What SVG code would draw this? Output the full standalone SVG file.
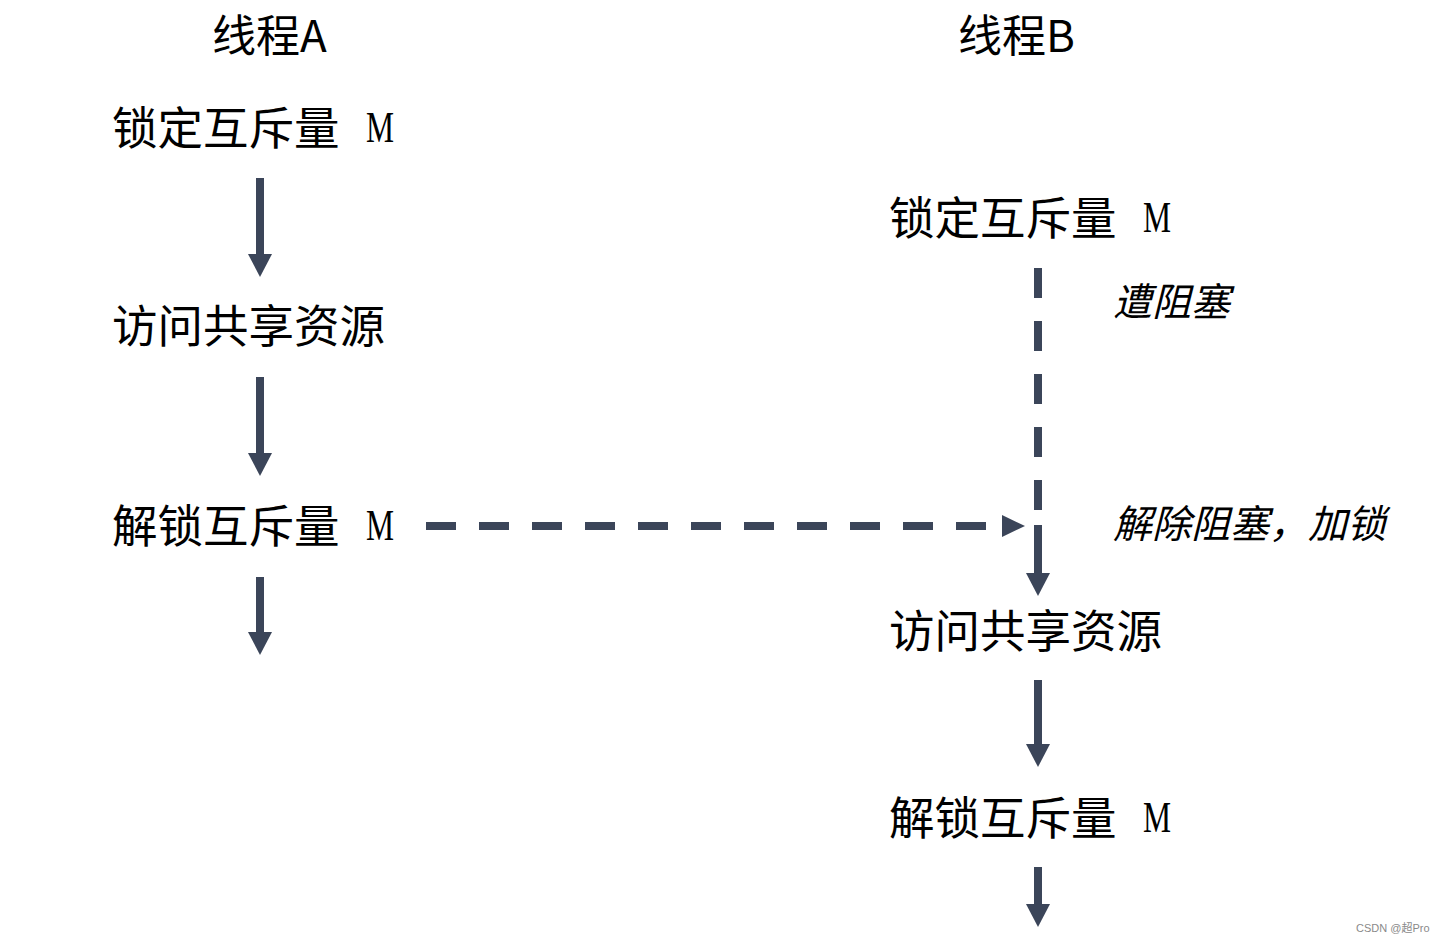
<svg xmlns="http://www.w3.org/2000/svg" width="1444" height="943" viewBox="0 0 1444 943">
<style>
.t{font-family:"Noto Sans CJK SC","Noto Sans",sans-serif;font-size:45.5px;fill:#000}
.h{font-size:44px}
.m{font-family:"Liberation Serif","Noto Sans CJK SC",serif;font-size:45px;fill:#000}
.i{font-family:"Noto Sans CJK SC","Noto Sans",sans-serif;font-size:39px;font-style:italic;fill:#000}
.s{stroke:#3b4559;stroke-width:8;fill:none}
.d{stroke-dasharray:30 23}
.ah{fill:#3b4559}
.w{font-family:"Liberation Sans","Noto Sans CJK SC",sans-serif;font-size:11px;fill:#8a8a8a}
</style>
<rect width="1444" height="943" fill="#fff"/>
<g id="titleA"><text class="t h" x="212" y="52">线程A</text></g>
<g id="titleB"><text class="t h" x="958" y="52">线程B</text></g>
<g id="a1"><text class="t" x="112" y="145">锁定互斥量</text><text class="m" x="366" y="142" textLength="28" lengthAdjust="spacingAndGlyphs">M</text></g>
<g id="a2"><text class="t" x="112" y="343">访问共享资源</text></g>
<g id="a3"><text class="t" x="112" y="543">解锁互斥量</text><text class="m" x="366" y="540" textLength="28" lengthAdjust="spacingAndGlyphs">M</text></g>
<g id="b1"><text class="t" x="889" y="235">锁定互斥量</text><text class="m" x="1143" y="232" textLength="28" lengthAdjust="spacingAndGlyphs">M</text></g>
<g id="b2"><text class="t" x="889" y="648">访问共享资源</text></g>
<g id="b3"><text class="t" x="889" y="835">解锁互斥量</text><text class="m" x="1143" y="832" textLength="28" lengthAdjust="spacingAndGlyphs">M</text></g>
<g id="lbl1"><text class="i" x="1113" y="316">遭阻塞</text></g>
<g id="lbl2"><text class="i" x="1113" y="538">解除阻塞，加锁</text></g>
<g id="connectors">
<line class="s" x1="260" y1="178" x2="260" y2="256"/>
<polygon class="ah" points="248,254 272,254 260,277"/>
<line class="s" x1="260" y1="377" x2="260" y2="455"/>
<polygon class="ah" points="248,453 272,453 260,476"/>
<line class="s" x1="260" y1="577" x2="260" y2="634"/>
<polygon class="ah" points="248,632 272,632 260,655"/>
<line class="s d" x1="1038" y1="268" x2="1038" y2="520"/>
<line class="s" x1="1038" y1="525" x2="1038" y2="575"/>
<polygon class="ah" points="1026,573 1050,573 1038,596"/>
<line class="s d" x1="426" y1="526" x2="1000" y2="526"/>
<polygon class="ah" points="1002,515 1002,537 1025,526"/>
<line class="s" x1="1038" y1="680" x2="1038" y2="746"/>
<polygon class="ah" points="1026,744 1050,744 1038,767"/>
<line class="s" x1="1038" y1="867" x2="1038" y2="906"/>
<polygon class="ah" points="1026,904 1050,904 1038,927"/>
</g>
<text class="w" x="1356" y="932">CSDN @超Pro</text>
</svg>
